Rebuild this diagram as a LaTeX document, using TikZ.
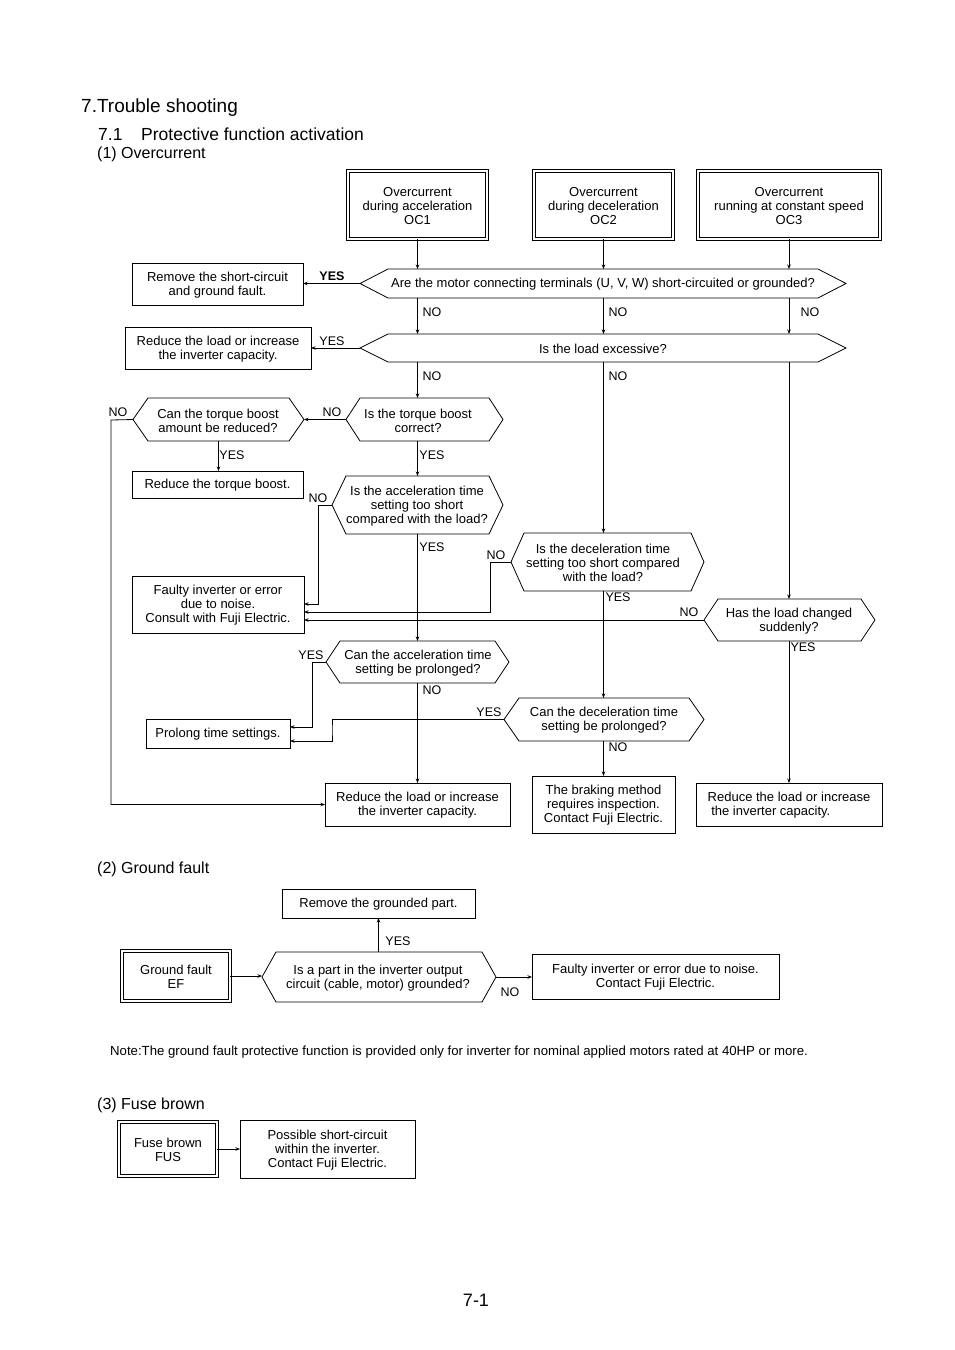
\documentclass[tikz,border=0pt]{standalone}
\usepackage{fontspec}
\setmainfont{Liberation Sans}
\usetikzlibrary{arrows.meta,fit,calc}
\tikzset{
  ln/.style={line width=0.8pt},
  arr/.style={ln,-{Stealth[length=4.5pt,width=3.5pt]}},
  txt/.style={font=\fontsize{13}{14}\selectfont, align=center, inner sep=0pt, yshift=-1pt},
  lbl/.style={font=\fontsize{12.5}{14}\selectfont, inner sep=0pt},
  boxfit/.style={inner sep=0pt, outer sep=0pt},
}
\newcommand\hexq[8]{%
  \path (#2,#4) coordinate (#1-nw) (#3,#5) coordinate (#1-se);
  \node[boxfit, fit=(#1-nw)(#1-se)] (#1) {};
  \draw[ln] (#1.west) -- ([xshift=#6pt]#1.north west) -- ([xshift=-#6pt]#1.north east) -- (#1.east) -- ([xshift=-#6pt]#1.south east) -- ([xshift=#6pt]#1.south west) -- cycle;
  \node[txt] (#1-t) at (#7,{(#4+#5)/2}) {#8};
}
\newcommand\boxn[6]{%
  \path (#2,#3) coordinate (#1-nw) (#4,#5) coordinate (#1-se);
  \node[boxfit, draw, ln, fit=(#1-nw)(#1-se)] (#1) {};
  \node[txt] (#1-t) at (#1.center) {#6};
}
\newcommand\dboxn[6]{%
  \path (#2,#3) coordinate (#1-nw) (#4,#5) coordinate (#1-se);
  \node[boxfit, draw, line width=1pt, double, double distance=2.6pt, fit=(#1-nw)(#1-se)] (#1) {};
  \node[txt] (#1-t) at (#1.center) {#6};
}
\begin{document}
\begin{tikzpicture}[x=1pt,y=-1pt]
\useasboundingbox[fill=white] (0,0) rectangle (954,1350);

% headings
\node[anchor=base west, inner sep=0pt, font=\fontsize{19}{22}\selectfont] (h1) at (81,112) {7.Trouble shooting};
\node[anchor=base west, inner sep=0pt, font=\fontsize{17.5}{20}\selectfont] (h2) at (98,140) {\makebox[43pt][l]{7.1}Protective function activation};
\node[anchor=base west, inner sep=0pt, font=\fontsize{16}{18}\selectfont] (h3) at (97,158.5) {(1) Overcurrent};
\node[anchor=base west, inner sep=0pt, font=\fontsize{16}{18}\selectfont] (h4) at (97,873.5) {(2) Ground fault};
\node[anchor=base west, inner sep=0pt, font=\fontsize{16}{18}\selectfont] (h5) at (97,1109.5) {(3) Fuse brown};
\node[anchor=base west, inner sep=0pt, font=\fontsize{13.2}{15}\selectfont] (note) at (110,1055) {Note:The ground fault protective function is provided only for inverter for nominal applied motors rated at 40HP or more.};
\node[anchor=base, inner sep=0pt, font=\fontsize{18}{20}\selectfont] (pg) at (476,1306) {7-1};

% top boxes
\dboxn{oc1}{348}{171}{487}{239}{Overcurrent\\during acceleration\\OC1}
\dboxn{oc2}{534}{171}{673}{239}{Overcurrent\\during deceleration\\OC2}
\dboxn{oc3}{698}{171}{880}{239}{Overcurrent\\running at constant speed\\OC3}

% decisions
\hexq{q1}{360}{846}{269}{298}{28}{603}{Are the motor connecting terminals (U, V, W) short-circuited or grounded?}
\hexq{q2}{360}{846}{334}{362}{28}{603}{Is the load excessive?}
\hexq{q3}{346}{503}{398}{441}{14}{418}{Is the torque boost\\correct?}
\hexq{q4}{133}{304}{398}{441}{15}{218}{Can the torque boost\\amount be reduced?}
\hexq{q5}{332}{503}{476}{534}{14}{417}{Is the acceleration time\\setting too short\\compared with the load?}
\hexq{q6}{511}{704}{533}{591}{13}{603}{Is the deceleration time\\setting too short compared\\with the load?}
\hexq{q7}{704}{875}{599}{641}{14}{789}{Has the load changed\\suddenly?}
\hexq{q8}{326}{509}{641}{683}{14}{418}{Can the acceleration time\\setting be prolonged?}
\hexq{q9}{504}{704}{698}{741}{15}{604}{Can the deceleration time\\setting be prolonged?}

% result boxes
\boxn{r1}{132}{263}{303}{305}{Remove the short-circuit\\and ground fault.}
\boxn{r2}{125}{327}{311}{369}{Reduce the load or increase\\the inverter capacity.}
\boxn{r3}{132}{471}{303}{498}{Reduce the torque boost.}
\boxn{r4}{132}{576}{304}{633}{Faulty inverter or error\\due to noise.\\Consult with Fuji Electric.}
\boxn{r6}{146}{719}{290}{748}{Prolong time settings.}
\boxn{r5}{325}{783}{510}{826}{Reduce the load or increase\\the inverter capacity.}
\boxn{r8}{532}{776}{675}{833}{The braking method\\requires inspection.\\Contact Fuji Electric.}
\path (696,783) coordinate (r7-nw) (882,826) coordinate (r7-se);
\node[boxfit, draw, ln, fit=(r7-nw)(r7-se)] (r7) {};
\node[txt, align=left] (r7-t) at (r7.center) {Reduce the load or increase\\\ the inverter capacity.};

% connectors
\draw[arr] (oc1.south) -- (oc1.south |- q1.north);
\draw[arr] (oc2.south) -- (oc2.south |- q1.north);
\draw[arr] (oc3.south) -- (oc3.south |- q1.north);
\draw[arr] (q1.west) -- (q1.west -| r1.east);
\draw[arr] (oc1.south |- q1.south) -- (oc1.south |- q2.north);
\draw[arr] (oc2.south |- q1.south) -- (oc2.south |- q2.north);
\draw[arr] (oc3.south |- q1.south) -- (oc3.south |- q2.north);
\draw[arr] (q2.west) -- (q2.west -| r2.east);
\draw[arr] (oc1.south |- q2.south) -- (oc1.south |- q3.north);
\draw[arr] (oc2.south |- q2.south) -- (oc2.south |- q6.north);
\draw[arr] (oc3.south |- q2.south) -- (oc3.south |- q7.north);
\draw[arr] (q3.west) -- (q4.east);
\coordinate (jL) at (111,420);
\draw[arr] (q4.west) -- (jL) |- (r5.west);
\draw[arr] (q4.south) -- (q4.south |- r3.north);
\draw[arr] (oc1.south |- q3.south) -- (oc1.south |- q5.north);
\coordinate (jA) at (318,505);
\draw[arr] (q5.west) -- (jA) |- ([yshift=0.5pt]r4.east);
\draw[arr] (oc1.south |- q5.south) -- (oc1.south |- q8.north);
\coordinate (jB) at (490,562);
\draw[arr] (q6.west) -- (jB) |- ([yshift=-7.5pt]r4.east);
\draw[arr] (q7.west) -- (q7.west -| r4.east);
\draw[arr] (oc2.south |- q6.south) -- (oc2.south |- q9.north);
\draw[arr] (oc3.south |- q7.south) -- (oc3.south |- r7.north);
\coordinate (jC) at (312,662);
\draw[arr] (q8.west) -- (jC) |- ([yshift=6.5pt]r6.east);
\draw[arr] (oc1.south |- q8.south) -- (oc1.south |- r5.north);
\coordinate (jD) at (332,730);
\draw[arr] (q9.west) -| (jD) |- ([yshift=-7.5pt]r6.east);
\draw[arr] (oc2.south |- q9.south) -- (oc2.south |- r8.north);

% labels
\node[lbl, font=\fontsize{12.5}{14}\selectfont\bfseries] (l1) at (332,276) {YES};
\node[lbl] (l2) at (432,312) {NO};
\node[lbl] (l3) at (618,312) {NO};
\node[lbl] (l4) at (810,312) {NO};
\node[lbl] (l5) at (332,341) {YES};
\node[lbl] (l6) at (432,376) {NO};
\node[lbl] (l7) at (618,376) {NO};
\node[lbl] (l8) at (332,412) {NO};
\node[lbl] (l9) at (118,412) {NO};
\node[lbl] (l10) at (232,455) {YES};
\node[lbl] (l11) at (432,455) {YES};
\node[lbl] (l12) at (318,498) {NO};
\node[lbl] (l13) at (432,547) {YES};
\node[lbl] (l14) at (496,555) {NO};
\node[lbl] (l15) at (618,597) {YES};
\node[lbl] (l16) at (689,612) {NO};
\node[lbl] (l17) at (803,647) {YES};
\node[lbl] (l18) at (311,655) {YES};
\node[lbl] (l19) at (432,690) {NO};
\node[lbl] (l20) at (489,712) {YES};
\node[lbl] (l21) at (618,747) {NO};

% section 2
\dboxn{ef}{122}{951}{230}{1001}{Ground fault\\EF}
\hexq{g1}{262}{496}{952}{1002}{14}{378}{Is a part in the inverter output\\circuit (cable, motor) grounded?}
\boxn{rg}{282}{889}{475}{918}{Remove the grounded part.}
\boxn{fg}{532}{954}{779}{999}{Faulty inverter or error due to noise.\\Contact Fuji Electric.}
\draw[arr] (ef.east) -- (ef.east -| g1.west);
\draw[arr] (g1.north -| rg.south) -- (rg.south);
\draw[arr] (g1.east) -- (g1.east -| fg.west);
\node[lbl] (l22) at (398,941) {YES};
\node[lbl] (l23) at (510,992) {NO};

% section 3
\dboxn{fus}{119}{1122}{217}{1176}{Fuse brown\\FUS}
\boxn{fp}{240}{1120}{415}{1178}{Possible short-circuit\\within the inverter.\\Contact Fuji Electric.}
\draw[arr] (fus.east) -- (fp.west);
\end{tikzpicture}
\end{document}
